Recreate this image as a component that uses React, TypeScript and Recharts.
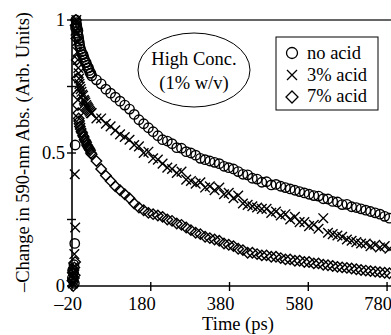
import { ScatterChart, Scatter, XAxis, YAxis, ReferenceLine } from 'recharts'

const FONT = '"Liberation Serif", "Times New Roman", serif'

const TIMES = [
  -19, -18, -17, -16, -15, -14, -13, -12, -11, -10, -9, -8, -7, -6, -5, -4, -3, -2, -1, 0,
  2, 4, 6, 8, 10, 12, 14, 16, 18, 20, 22, 24, 26, 28,
  30, 42, 54, 66, 78, 90, 102, 114,
  126, 138, 150, 162, 174, 186, 198, 210,
  222, 234, 246, 258, 270, 282, 294, 306,
  318, 330, 342, 354, 366, 378, 390, 402,
  414, 426, 438, 450, 462, 474, 486, 498,
  510, 522, 534, 546, 558, 570, 582, 594,
  606, 618, 630, 642, 654, 666, 678, 690,
  702, 714, 726, 738, 750, 762, 774, 786,
]

const NO_ACID = [
  0.03, 0.06, 0.02, 0.05, 0.08, 0.01, 0.16, 0.53, 0.97, 1.0, 0.99, 0.98, 0.97, 0.95, 0.96, 0.94, 0.93, 0.92, 0.91, 0.9,
  0.89, 0.88, 0.87, 0.87, 0.86, 0.85, 0.84, 0.84, 0.83, 0.82, 0.82, 0.81, 0.8, 0.8,
  0.79, 0.775, 0.76, 0.74, 0.725, 0.71, 0.695, 0.68,
  0.665, 0.645, 0.625, 0.61, 0.595, 0.58, 0.565, 0.55,
  0.545, 0.535, 0.52, 0.518, 0.505, 0.5, 0.492, 0.48,
  0.475, 0.47, 0.465, 0.46, 0.45, 0.445, 0.44, 0.43,
  0.42, 0.418, 0.405, 0.402, 0.39, 0.392, 0.38, 0.382,
  0.375, 0.37, 0.365, 0.36, 0.355, 0.35, 0.345, 0.34,
  0.338, 0.328, 0.327, 0.318, 0.316, 0.306, 0.307, 0.298,
  0.295, 0.29, 0.285, 0.28, 0.275, 0.27, 0.262, 0.255,
]

const ACID_3 = [
  0.04, 0.01, 0.07, 0.03, 0.05, 0.12, 0.42, 0.22, 0.96, 0.99, 1.0, 0.95, 0.92, 0.88, 0.85, 0.82, 0.8, 0.78, 0.76, 0.75,
  0.74, 0.73, 0.72, 0.715, 0.7, 0.695, 0.69, 0.68, 0.675, 0.67, 0.665, 0.66, 0.655, 0.65,
  0.65, 0.63, 0.63, 0.61, 0.6, 0.585, 0.57, 0.56,
  0.55, 0.53, 0.525, 0.5, 0.505, 0.48, 0.475, 0.46,
  0.445, 0.44, 0.425, 0.43, 0.4, 0.395, 0.385, 0.39,
  0.37, 0.375, 0.36, 0.37, 0.345, 0.35, 0.33, 0.34,
  0.31, 0.305, 0.3, 0.295, 0.29, 0.29, 0.275, 0.28,
  0.265, 0.27, 0.25, 0.26, 0.24, 0.24, 0.225, 0.23,
  0.215, 0.255, 0.2, 0.195, 0.19, 0.185, 0.175, 0.17,
  0.165, 0.16, 0.16, 0.15, 0.155, 0.145, 0.15, 0.14,
]

const ACID_7 = [
  0.02, 0.05, 0.0, 0.06, 0.03, 0.07, 0.04, 0.09, 0.98, 1.0, 0.93, 0.85, 0.78, 0.72, 0.68, 0.65, 0.63, 0.62, 0.61, 0.6,
  0.59, 0.58, 0.575, 0.565, 0.56, 0.55, 0.545, 0.54, 0.53, 0.525, 0.52, 0.515, 0.51, 0.5,
  0.495, 0.47, 0.44, 0.415, 0.395, 0.375, 0.36, 0.345,
  0.33, 0.31, 0.295, 0.285, 0.275, 0.27, 0.265, 0.26,
  0.25, 0.245, 0.235, 0.23, 0.22, 0.21, 0.2, 0.195,
  0.185, 0.18, 0.175, 0.17, 0.16, 0.155, 0.15, 0.14,
  0.135, 0.125, 0.125, 0.12, 0.115, 0.115, 0.11, 0.11,
  0.105, 0.1, 0.1, 0.095, 0.095, 0.09, 0.09, 0.085,
  0.085, 0.08, 0.078, 0.075, 0.072, 0.07, 0.068, 0.066,
  0.063, 0.06, 0.058, 0.056, 0.054, 0.052, 0.05, 0.048,
]

const X_TICKS = [-20, 180, 380, 580, 780]
const Y_TICKS = [0, 0.25, 0.5, 0.75, 1]
const Y_LABELED = [0, 0.5, 1]

const toPoints = (vals: number[]) => TIMES.map((t, i) => ({ t, v: vals[i] }))

const SW = 1.4

const Circle = (p: any) => (
  <circle cx={p.cx} cy={p.cy} r={4.7} fill="none" stroke="#000" strokeWidth={SW} />
)
const Cross = (p: any) => (
  <path
    d={`M${p.cx - 4.8},${p.cy - 4.8}L${p.cx + 4.8},${p.cy + 4.8}M${p.cx + 4.8},${p.cy - 4.8}L${p.cx - 4.8},${p.cy + 4.8}`}
    stroke="#000" strokeWidth={SW} fill="none"
  />
)
const Diamond = (p: any) => (
  <path
    d={`M${p.cx},${p.cy - 5.2}L${p.cx + 5.2},${p.cy}L${p.cx},${p.cy + 5.2}L${p.cx - 5.2},${p.cy}Z`}
    stroke="#000" strokeWidth={SW} fill="none"
  />
)

const TICK_SIZE = 5
const TICK_MARGIN = 3

const YTick = (p: any) => {
  const ax = p.x + TICK_SIZE + TICK_MARGIN
  const v = p.payload.value
  return (
    <g>
      <line x1={ax - 5} x2={ax + 4} y1={p.y} y2={p.y} stroke="#000" strokeWidth={1.4} />
      {Y_LABELED.includes(v) && (
        <text x={ax - 7} y={p.y + 6} textAnchor="end" fontFamily={FONT} fontSize={18.5} fill="#000">
          {String(v)}
        </text>
      )}
    </g>
  )
}

const XTick = (p: any) => {
  const ay = p.y - TICK_SIZE - TICK_MARGIN
  const v = p.payload.value
  return (
    <g>
      <line x1={p.x} x2={p.x} y1={ay - 4} y2={ay + 5} stroke="#000" strokeWidth={1.4} />
      <text x={v < 0 ? p.x - 4 : p.x - 9} y={ay + 24} textAnchor="middle" fontFamily={FONT} fontSize={18.5} fill="#000">
        {v < 0 ? `–${Math.abs(v)}` : String(v)}
      </text>
    </g>
  )
}

export default function App() {
  return (
    <div style={{ position: 'absolute', left: 0, top: 0, width: 391, height: 335, background: '#fff' }}>
      <ScatterChart width={391} height={335} margin={{ top: 20, right: 0, bottom: 19, left: 32 }}>
        <XAxis
          type="number"
          dataKey="t"
          domain={[-20, 790]}
          ticks={X_TICKS}
          interval={0}
          height={30}
          tickSize={TICK_SIZE}
          tickMargin={TICK_MARGIN}
          tickLine={false}
          axisLine={{ stroke: '#000', strokeWidth: 1.6 }}
          tick={<XTick />}
        />
        <YAxis
          type="number"
          dataKey="v"
          domain={[0, 1]}
          ticks={Y_TICKS}
          interval={0}
          width={40}
          tickSize={TICK_SIZE}
          tickMargin={TICK_MARGIN}
          tickLine={false}
          axisLine={{ stroke: '#000', strokeWidth: 1.6 }}
          tick={<YTick />}
        />
        <ReferenceLine y={1} stroke="#333" strokeWidth={1.5} />
        <Scatter data={toPoints(NO_ACID)} shape={Circle} isAnimationActive={false} />
        <Scatter data={toPoints(ACID_3)} shape={Cross} isAnimationActive={false} />
        <Scatter data={toPoints(ACID_7)} shape={Diamond} isAnimationActive={false} />
      </ScatterChart>

      <svg width={391} height={335} style={{ position: 'absolute', left: 0, top: 0, pointerEvents: 'none' }}>
        <text
          transform="translate(29,152) rotate(-90)"
          textAnchor="middle"
          fontFamily={FONT}
          fontSize={18.5}
          fill="#000"
        >
          –Change in 590-nm Abs. (Arb. Units)
        </text>
        <text x={238} y={330} textAnchor="middle" fontFamily={FONT} fontSize={18.5} fill="#000">
          Time (ps)
        </text>

        <ellipse cx={194} cy={70} rx={56} ry={37} fill="#fff" stroke="#000" strokeWidth={1} />
        <text x={194} y={65} textAnchor="middle" fontFamily={FONT} fontSize={18.5} fill="#000">High Conc.</text>
        <text x={194} y={89} textAnchor="middle" fontFamily={FONT} fontSize={18.5} fill="#000">(1% w/v)</text>

        <rect x={276} y={37} width={102} height={73} fill="#fff" stroke="#000" strokeWidth={1} />
        <circle cx={292} cy={53} r={5.5} fill="none" stroke="#000" strokeWidth={1.3} />
        <path d="M287,70L297,80M297,70L287,80" stroke="#000" strokeWidth={1.3} />
        <path d="M292,91L298,97L292,103L286,97Z" fill="none" stroke="#000" strokeWidth={1.3} />
        <text x={307} y={59} fontFamily={FONT} fontSize={18.5} fill="#000">no acid</text>
        <text x={307} y={81} fontFamily={FONT} fontSize={18.5} fill="#000">3% acid</text>
        <text x={307} y={102} fontFamily={FONT} fontSize={18.5} fill="#000">7% acid</text>
      </svg>
    </div>
  )
}
